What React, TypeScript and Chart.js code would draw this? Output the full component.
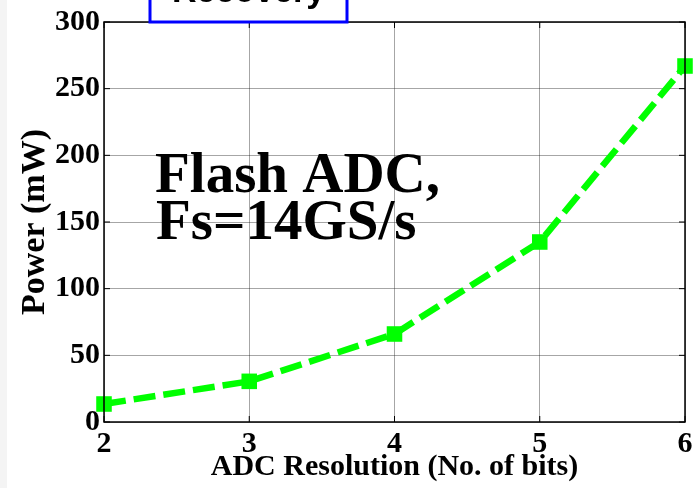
import React, { useEffect, useRef } from "react";
import { Chart, registerables } from "chart.js";

Chart.register(...registerables);

const resolutionBits = [2, 3, 4, 5, 6];
const powerMW = [13.5, 30.5, 66, 135, 267];
const yTicks = [0, 50, 100, 150, 200, 250, 300];
const xTitle = "ADC Resolution (No. of bits)";
const yTitle = "Power (mW)";
const noteLines = ["Flash ADC,", "Fs=14GS/s"];
const boxLabel = "Recovery";

const SERIF = "'Liberation Serif', 'Times New Roman', serif";

const framePlugin = {
  id: "frame",
  beforeDatasetsDraw(chart: any) {
    const { ctx, chartArea } = chart;
    const { left, top } = chartArea;
    ctx.save();
    ctx.fillStyle = "#000";
    ctx.font = `bold 57px ${SERIF}`;
    ctx.textAlign = "left";
    ctx.textBaseline = "alphabetic";
    ctx.fillText(noteLines[0], left + 51, top + 170);
    ctx.fillText(noteLines[1], left + 52, top + 217);
    ctx.restore();
  },
  afterDraw(chart: any) {
    const { ctx, chartArea, scales } = chart;
    const { left, right, top, bottom } = chartArea;
    ctx.save();
    ctx.strokeStyle = "#000";
    ctx.lineWidth = 1.5;
    ctx.strokeRect(left, top, right - left, bottom - top);
    ctx.lineWidth = 1;
    const xs = scales.x;
    const ys = scales.y;
    xs.ticks.forEach((t: any) => {
      const px = xs.getPixelForValue(t.value);
      ctx.beginPath();
      ctx.moveTo(px, bottom);
      ctx.lineTo(px, bottom - 6);
      ctx.moveTo(px, top);
      ctx.lineTo(px, top + 6);
      ctx.stroke();
    });
    ys.ticks.forEach((t: any) => {
      const py = ys.getPixelForValue(t.value);
      ctx.beginPath();
      ctx.moveTo(left, py);
      ctx.lineTo(left + 6, py);
      ctx.moveTo(right, py);
      ctx.lineTo(right - 6, py);
      ctx.stroke();
    });
    const bx = 150;
    const bw = 197;
    ctx.fillStyle = "#fff";
    ctx.fillRect(bx, -20, bw, top + 20);
    ctx.strokeStyle = "#0000ff";
    ctx.lineWidth = 3;
    ctx.strokeRect(bx, -20, bw, top + 20);
    ctx.fillStyle = "#000";
    ctx.font = "bold 34px 'Liberation Sans', Arial, sans-serif";
    ctx.textAlign = "center";
    ctx.textBaseline = "alphabetic";
    ctx.fillText(boxLabel, bx + bw / 2, 2);
    ctx.restore();
  },
};

export default function App() {
  const ref = useRef<HTMLCanvasElement | null>(null);
  useEffect(() => {
    if (!ref.current) return;
    const chart = new Chart(ref.current, {
      type: "line",
      data: {
        datasets: [
          {
            data: resolutionBits.map((x, i) => ({ x, y: powerMW[i] })),
            borderColor: "#00ff00",
            backgroundColor: "#00ff00",
            borderWidth: 6.5,
            borderDash: [22, 8],
            pointStyle: "rect",
            pointRadius: 11,
            pointHoverRadius: 11,
            pointBorderWidth: 0,
            clip: false as any,
          },
        ],
      },
      options: {
        animation: false,
        responsive: false,
        events: [],
        layout: { padding: { left: 0, top: 21, right: 12, bottom: 0 } },
        plugins: { legend: { display: false }, tooltip: { enabled: false } },
        scales: {
          x: {
            type: "linear",
            min: 2,
            max: 6,
            afterFit(s: any) {
              s.height = 66;
            },
            afterBuildTicks(s: any) {
              s.ticks = resolutionBits.map((v) => ({ value: v }));
            },
            ticks: {
              color: "#000",
              padding: 4,
              maxRotation: 0,
              font: { family: SERIF, size: 30, weight: "bold" },
            },
            grid: { color: "rgba(0,0,0,0.35)", lineWidth: 1, drawTicks: false },
            border: { display: false },
            title: {
              display: true,
              text: xTitle,
              color: "#000",
              font: { family: SERIF, size: 30, weight: "bold" },
              padding: { top: 0, bottom: 3 },
            },
          },
          y: {
            type: "linear",
            min: 0,
            max: 300,
            afterFit(s: any) {
              s.width = 104;
            },
            afterBuildTicks(s: any) {
              s.ticks = yTicks.map((v) => ({ value: v }));
            },
            ticks: {
              color: "#000",
              padding: 4,
              font: { family: SERIF, size: 30, weight: "bold" },
            },
            grid: { color: "rgba(0,0,0,0.35)", lineWidth: 1, drawTicks: false },
            border: { display: false },
            title: {
              display: true,
              text: yTitle,
              color: "#000",
              font: { family: SERIF, size: 34, weight: "bold" },
              padding: { top: 15, bottom: 0 },
            },
          },
        },
      },
      plugins: [framePlugin],
    });
    return () => chart.destroy();
  }, []);
  return (
    <div style={{ position: "absolute", left: 0, top: 0, width: 697, height: 488, background: "#fff", overflow: "hidden" }}>
      <div style={{ position: "absolute", left: 0, top: 0, width: 7, height: 488, background: "#f4f4f4" }} />
      <canvas ref={ref} width={697} height={488} style={{ position: "absolute", left: 0, top: 0 }} />
    </div>
  );
}
